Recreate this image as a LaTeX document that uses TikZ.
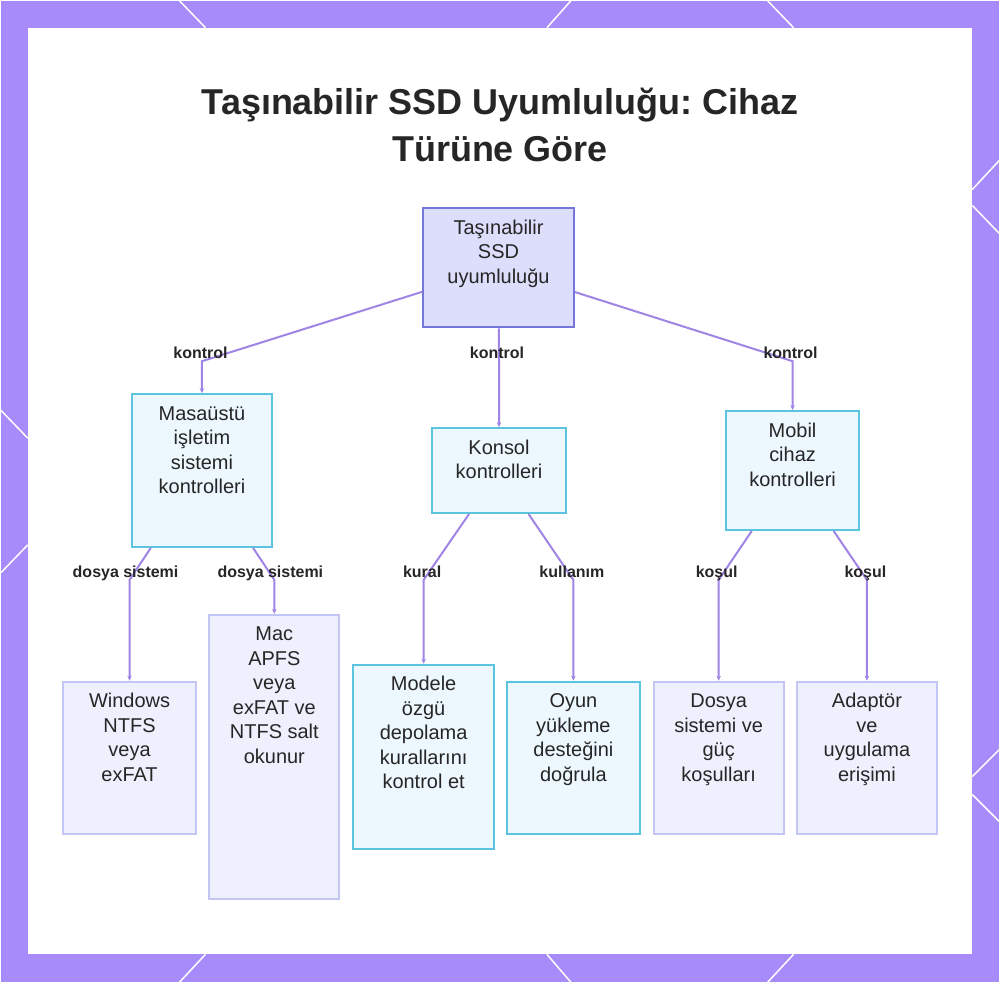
\documentclass[tikz,border=0pt]{standalone}
\usepackage{fontspec}
\setmainfont{Liberation Sans}
\usetikzlibrary{arrows.meta}
\frenchspacing
\definecolor{frame}{HTML}{A78BFA}
\definecolor{rootfill}{HTML}{DCDEFC}
\definecolor{rootline}{HTML}{7477D9}
\definecolor{cyanfill}{HTML}{EDF7FE}
\definecolor{cyanline}{HTML}{5BC4E0}
\definecolor{lavfill}{HTML}{EFF0FD}
\definecolor{lavline}{HTML}{C3C6F3}
\definecolor{edgecol}{HTML}{A084E6}
\definecolor{txt}{HTML}{262626}
\newcommand{\boxlines}[3]{\parbox[c][#2pt][t]{#1pt}{\centering\rule{0pt}{26pt}#3}}

\begin{document}
\begin{tikzpicture}[x=1pt,y=-1pt,
  rootbox/.style={draw=rootline,fill=rootfill,line width=2pt,inner sep=0pt,text=txt,font=\fontsize{20}{24.5}\selectfont},
  cyanbox/.style={rootbox,draw=cyanline,fill=cyanfill},
  lavbox/.style={rootbox,draw=lavline,fill=lavfill},
  lbl/.style={font=\fontsize{16}{18}\selectfont\bfseries,text=txt,inner sep=0pt,anchor=base},
  edge/.style={draw=edgecol,line width=2pt,-{Stealth[length=5pt,width=4.5pt]}}]
\fill[frame] (0,0) rectangle (1000,983);
\fill[white] (27,27) rectangle (973,955);
\draw[white,line width=1.5pt] (179,0)--(205,27) (571,0)--(547,27) (768,0)--(794,27)
  (179,983)--(205,955) (571,983)--(547,955) (768,983)--(794,955)
  (0,410)--(27,438) (27,545)--(0,573)
  (1000,160)--(973,189) (973,205)--(1000,233) (1000,750)--(973,777) (973,795)--(1000,822);
\useasboundingbox (0,0) rectangle (1000,983);

\node[align=center,font=\fontsize{36}{47}\selectfont\bfseries,text=txt] (title) at (500,124)
  {Taşınabilir SSD Uyumluluğu: Cihaz\\Türüne Göre};

\node[rootbox] (root) at (498.5,267.5) {\boxlines{151}{119}{Taşınabilir\\SSD\\uyumluluğu}};
\node[cyanbox] (desk) at (201.5,470.5) {\boxlines{141}{153}{Masaüstü\\işletim\\sistemi\\kontrolleri}};
\node[cyanbox] (cons) at (499,470.5) {\boxlines{134}{85}{Konsol\\kontrolleri}};
\node[cyanbox] (mob) at (793,470.5) {\boxlines{134}{119}{Mobil\\cihaz\\kontrolleri}};
\node[lavbox] (win) at (129,758) {\boxlines{134}{152}{Windows\\NTFS\\veya\\exFAT}};
\node[lavbox] (mac) at (274,757.5) {\boxlines{130}{285}{Mac\\APFS\\veya\\exFAT ve\\NTFS salt\\okunur}};
\node[cyanbox] (rules) at (423.5,757.5) {\boxlines{141}{185}{Modele\\özgü\\depolama\\kurallarını\\kontrol et}};
\node[cyanbox] (game) at (573.5,758) {\boxlines{133}{152}{Oyun\\yükleme\\desteğini\\doğrula}};
\node[lavbox] (power) at (719,758) {\boxlines{130}{152}{Dosya\\sistemi ve\\güç\\koşulları}};
\node[lavbox] (adapt) at (867.5,758) {\boxlines{141}{152}{Adaptör\\ve\\uygulama\\erişimi}};

\coordinate (bdesk) at (201.5,361);
\coordinate (bcons) at (499,361);
\coordinate (bmob) at (793,361);
\coordinate (bwin) at (129,580);
\coordinate (bmac) at (274,580);
\coordinate (brules) at (423.5,580);
\coordinate (bgame) at (573.5,580);
\coordinate (bpower) at (719,580);
\coordinate (badapt) at (867.5,580);

\draw[edge] (root) -- (bdesk) -- (desk);
\draw[edge] (root) -- (bcons) -- (cons);
\draw[edge] (root) -- (bmob) -- (mob);
\draw[edge] (desk) -- (bwin) -- (win);
\draw[edge] (desk) -- (bmac) -- (mac);
\draw[edge] (cons) -- (brules) -- (rules);
\draw[edge] (cons) -- (bgame) -- (game);
\draw[edge] (mob) -- (bpower) -- (power);
\draw[edge] (mob) -- (badapt) -- (adapt);

\node[lbl] (ldesk) at (200,358) {kontrol};
\node[lbl] (lcons) at (497,358) {kontrol};
\node[lbl] (lmob) at (791,358) {kontrol};
\node[lbl] (lwin) at (125,578) {dosya sistemi};
\node[lbl] (lmac) at (270,578) {dosya sistemi};
\node[lbl] (lrules) at (422,578) {kural};
\node[lbl] (lgame) at (572,578) {kullanım};
\node[lbl] (lpower) at (717,578) {koşul};
\node[lbl] (ladapt) at (866,578) {koşul};
\end{tikzpicture}
\end{document}
